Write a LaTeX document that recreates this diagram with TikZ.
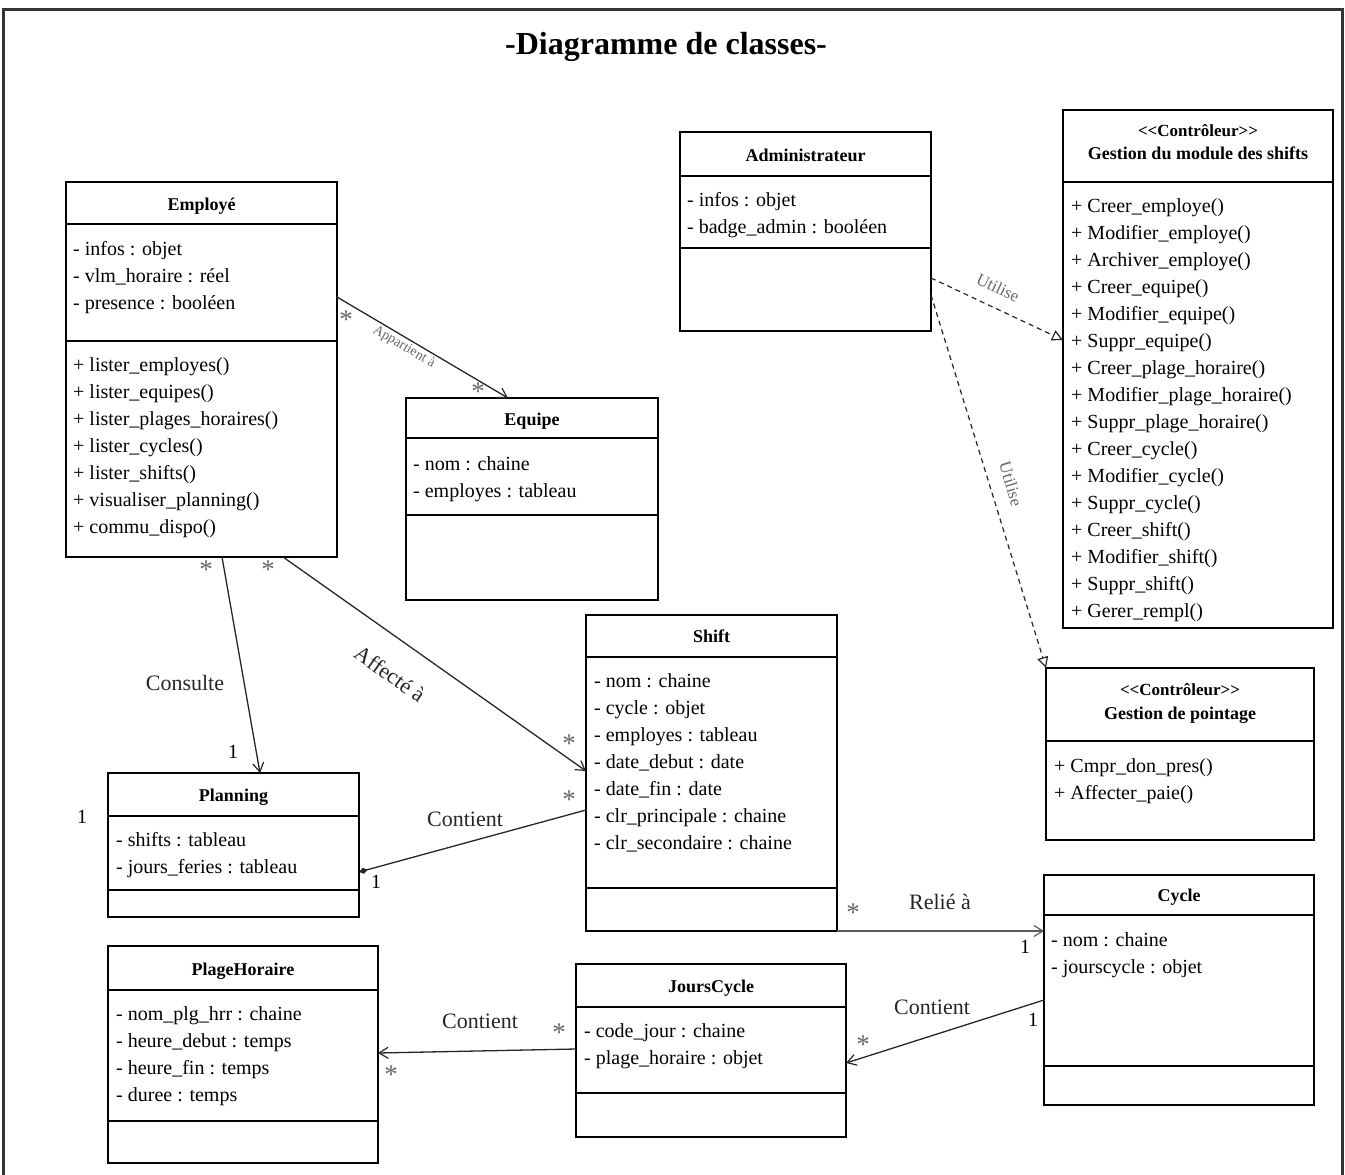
\documentclass[tikz,border=0pt]{standalone}
\usepackage{fontspec}
\setmainfont{Liberation Serif}
\usetikzlibrary{arrows.meta}

% class box: name, x1, y1, x2, y2 (y grows downwards)
\newcommand\umlclass[5]{%
  \node[umlbox, anchor=north west, minimum width={#4-#2}, minimum height={#5-#3}] (#1) at (#2,#3) {};}
% horizontal compartment divider inside a box
\newcommand\divider[2]{\draw[sepline] (#1.west |- 0,#2) -- (#1.east |- 0,#2);}
% list of members: name prefix, x, first baseline, entries
\newcommand\memberlist[4]{%
  \foreach \t [count=\i from 0] in {#4} \node[member] (#1\i) at (#2, #3+27*\i) {\t};}

\begin{document}
\begin{tikzpicture}[x=1pt, y=-1pt,
  umlbox/.style={draw=black, line width=2.6pt, rectangle, inner sep=0pt, outer sep=0pt},
  sepline/.style={line width=2.6pt},
  cname/.style={font=\fontsize{18}{20}\selectfont\bfseries, anchor=base, inner sep=0pt},
  stereo/.style={font=\fontsize{17}{19}\selectfont\bfseries, anchor=base, inner sep=0pt},
  member/.style={font=\fontsize{20}{22}\selectfont, anchor=base west, inner sep=0pt},
  assoc/.style={line width=1.3pt, draw=black!85},
  navig/.style={assoc, -{Straight Barb[length=9pt, width=11pt, line width=1.2pt]}},
  depend/.style={line width=1.2pt, draw=black!85, dashed, dash pattern=on 5pt off 4pt,
    -{Triangle[open, length=11pt, width=11pt, line width=1.2pt]}},
  mult/.style={font=\fontsize{20}{22}\selectfont, inner sep=0pt},
  star/.style={font=\fontsize{27}{29}\selectfont, inner sep=0pt, text=black!60},
  lbl/.style={font=\fontsize{22}{24}\selectfont, inner sep=0pt, text=black!85},
]
\useasboundingbox (0,0) rectangle (1345,1175);
\draw[line width=3pt, black!80] (3,9) rectangle (1342,1200);

\node[font=\fontsize{32}{36}\selectfont\bfseries, anchor=base] (title) at (666,54) {-Diagramme de classes-};

% ---------- Employé ----------
\umlclass{emp}{66}{182}{337}{557}
\divider{emp}{224}
\divider{emp}{341}
\node[cname] (empN) at (201.5,210) {Employé};
\memberlist{empA}{73}{255}{- infos : objet, - vlm\_horaire : réel, - presence : booléen}
\memberlist{empM}{73}{371}{+ lister\_employes(), + lister\_equipes(), + lister\_plages\_horaires(),
  + lister\_cycles(), + lister\_shifts(), + visualiser\_planning(), + commu\_dispo()}

% ---------- Equipe ----------
\umlclass{equ}{406}{398}{658}{600}
\divider{equ}{438}
\divider{equ}{515}
\node[cname] (equN) at (532,425) {Equipe};
\memberlist{equA}{413}{470}{- nom : chaine, - employes : tableau}

% ---------- Administrateur ----------
\umlclass{adm}{680}{132}{931}{331}
\divider{adm}{176}
\divider{adm}{248}
\node[cname] (admN) at (805.5,161) {Administrateur};
\memberlist{admA}{687}{206}{- infos : objet, - badge\_admin : booléen}

% ---------- Gestion du module des shifts ----------
\umlclass{gsm}{1063}{110}{1333}{628}
\divider{gsm}{182}
\node[stereo] (gsmS) at (1198,136) {<{}<Contrôleur>{}>};
\node[cname] (gsmN) at (1198,159) {Gestion du module des shifts};
\memberlist{gsmM}{1071}{212}{+ Creer\_employe(), + Modifier\_employe(), + Archiver\_employe(),
  + Creer\_equipe(), + Modifier\_equipe(), + Suppr\_equipe(), + Creer\_plage\_horaire(),
  + Modifier\_plage\_horaire(), + Suppr\_plage\_horaire(), + Creer\_cycle(), + Modifier\_cycle(),
  + Suppr\_cycle(), + Creer\_shift(), + Modifier\_shift(), + Suppr\_shift(), + Gerer\_rempl()}

% ---------- Shift ----------
\umlclass{shi}{586}{615}{837}{931}
\divider{shi}{657}
\divider{shi}{888}
\node[cname] (shiN) at (711.5,642) {Shift};
\memberlist{shiA}{594}{687}{- nom : chaine, - cycle : objet, - employes : tableau, - date\_debut : date,
  - date\_fin : date, - clr\_principale : chaine, - clr\_secondaire : chaine}

% ---------- Gestion de pointage ----------
\umlclass{gpt}{1046}{668}{1314}{840}
\divider{gpt}{741}
\node[stereo] (gptS) at (1180,695) {<{}<Contrôleur>{}>};
\node[cname] (gptN) at (1180,719) {Gestion de pointage};
\memberlist{gptM}{1054}{772}{+ Cmpr\_don\_pres(), + Affecter\_paie()}

% ---------- Planning ----------
\umlclass{pla}{108}{773}{359}{917}
\divider{pla}{816}
\divider{pla}{890}
\node[cname] (plaN) at (233.5,801) {Planning};
\memberlist{plaA}{116}{846}{- shifts : tableau, - jours\_feries : tableau}

% ---------- Cycle ----------
\umlclass{cyc}{1044}{875}{1314}{1105}
\divider{cyc}{915}
\divider{cyc}{1066}
\node[cname] (cycN) at (1179,901) {Cycle};
\memberlist{cycA}{1051}{946}{- nom : chaine, - jourscycle : objet}

% ---------- PlageHoraire ----------
\umlclass{plh}{108}{946}{378}{1163}
\divider{plh}{990}
\divider{plh}{1121}
\node[cname] (plhN) at (243,975) {PlageHoraire};
\memberlist{plhA}{116}{1020}{- nom\_plg\_hrr : chaine, - heure\_debut : temps, - heure\_fin : temps, - duree : temps}

% ---------- JoursCycle ----------
\umlclass{jou}{576}{964}{846}{1137}
\divider{jou}{1007}
\divider{jou}{1093}
\node[cname] (jouN) at (711,992) {JoursCycle};
\memberlist{jouA}{584}{1037}{- code\_jour : chaine, - plage\_horaire : objet}

% ---------- associations ----------
\draw[navig] (emp.east |- 0,297) -- (equ.north -| 508,0);
\node[font=\fontsize{14}{16}\selectfont, text=black!60, rotate=-30.6, inner sep=0pt] (appL) at (404,347) {Appartient à};
\node[star] (appS1) at (346,320) {*};
\node[star] (appS2) at (478,392) {*};

\draw[navig] (emp.south -| 222,0) -- (pla.north -| 260,0);
\node[lbl] (conL) at (185,683) {Consulte};
\node[star] (conS) at (206,570) {*};
\node[mult] (conM) at (233,752) {1};

\draw[navig] (emp.south -| 283,0) -- (shi.west |- 0,771);
\node[lbl, rotate=-35.2] (affL) at (390,674) {Affecté à};
\node[star] (affS1) at (268,570) {*};
\node[star] (affS2) at (569,744) {*};

\draw[assoc, -{Diamond[length=9pt, width=6pt]}] (shi.west |- 0,810) -- (pla.east |- 0,872);
\node[lbl] (ctpL) at (465,819) {Contient};
\node[star] (ctpS) at (569,800) {*};
\node[mult] (ctpM) at (376,882) {1};
\node[mult] (plaM) at (82,817) {1};

\draw[navig, draw=black!65] (shi.south east) -- (cyc.west |- shi.south east);
\node[lbl] (relL) at (940,902) {Relié à};
\node[star] (relS) at (853,913) {*};
\node[mult] (relM) at (1025,947) {1};

\draw[navig] (cyc.west |- 0,1000) -- (jou.east |- 0,1063);
\node[lbl] (ccjL) at (932,1007) {Contient};
\node[mult] (ccjM) at (1033,1020) {1};
\node[star] (ccjS) at (863,1045) {*};

\draw[navig] (jou.west |- 0,1049) -- (plh.east |- 0,1053);
\node[lbl] (cjpL) at (480,1021) {Contient};
\node[star] (cjpS1) at (559,1033) {*};
\node[star] (cjpS2) at (391,1075) {*};

% ---------- dependencies ----------
\draw[depend] (adm.east |- 0,278) -- (gsm.west |- 0,340);
\node[font=\fontsize{17}{19}\selectfont, text=black!60, rotate=-25.5, inner sep=0pt] (ut1L) at (998,288) {Utilise};
\draw[depend] (adm.east |- 0,295) -- (gpt.north west);
\node[font=\fontsize{17}{19}\selectfont, text=black!60, rotate=-73.6, inner sep=0pt] (ut2L) at (1011,484) {Utilise};
\end{tikzpicture}
\end{document}
